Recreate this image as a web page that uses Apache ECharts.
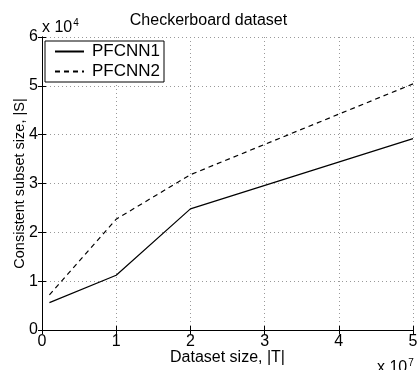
<!DOCTYPE html>
<html><head><meta charset="utf-8">
<script src="https://cdn.jsdelivr.net/npm/echarts@6/dist/echarts.min.js"></script>
<style>html,body{margin:0;padding:0;background:#fff}#c{width:417px;height:370px}</style>
</head><body><div id="c"></div>
<script>
const datasetSize = [1e6, 1e7, 2e7, 5e7];
const pfcnn1 = [5600, 11200, 24800, 39200];
const pfcnn2 = [7200, 22700, 31800, 50400];
const seriesNames = ['PFCNN1', 'PFCNN2'];
const xTicks = [0, 1, 2, 3, 4, 5];
const yTicks = [0, 1, 2, 3, 4, 5, 6];
const FONT = '"Liberation Sans", Arial, sans-serif';
const chart = echarts.init(document.getElementById('c'));
const grid = {left: 42, right: 4, top: 37, bottom: 40, containLabel: false, outerBoundsMode: 'none'};
const axisCommon = {
  axisLine: {show: true, lineStyle: {color: '#000', width: 1}},
  axisTick: {show: true, inside: true, length: 4, lineStyle: {color: '#000'}},
};
chart.setOption({
  animation: false,
  title: {text: 'Checkerboard dataset', left: 'center', top: 8,
    textStyle: {fontFamily: FONT, fontSize: 16, fontWeight: 'normal', color: '#000'}},
  grid: grid,
  legend: {
    data: seriesNames, orient: 'vertical', left: 45, top: 41,
    backgroundColor: '#fff', borderColor: '#000', borderWidth: 1, padding: [2, 4, 2, 9],
    itemWidth: 29, itemHeight: 14, itemGap: 3,
    itemStyle: {opacity: 0},
    textStyle: {fontFamily: FONT, fontSize: 17, color: '#000', padding: [0, 0, 0, 3]}
  },
  xAxis: [{
    type: 'value', min: 0, max: 5e7, interval: 1e7, position: 'bottom',
    ...axisCommon,
    axisLabel: {fontFamily: FONT, fontSize: 16, color: '#000', margin: 4,
      formatter: v => String(xTicks[Math.round(v / 1e7)])},
    splitLine: {show: true, lineStyle: {color: '#999', type: [1, 3], width: 1}},
    name: 'Dataset size, |T|', nameLocation: 'middle', nameGap: 20, nameMoveOverlap: false,
    nameTextStyle: {fontFamily: FONT, fontSize: 16, color: '#000', verticalAlign: 'top'}
  }, {
    type: 'value', min: 0, max: 5e7, interval: 1e7, position: 'top',
    ...axisCommon, axisLabel: {show: false}, splitLine: {show: false}
  }],
  yAxis: [{
    type: 'value', min: 0, max: 6e4, interval: 1e4, position: 'left',
    ...axisCommon,
    axisLabel: {fontFamily: FONT, fontSize: 16, color: '#000', margin: 4,
      formatter: v => String(yTicks[Math.round(v / 1e4)])},
    splitLine: {show: true, lineStyle: {color: '#999', type: [1, 3], width: 1}},
    name: 'Consistent subset size, |S|', nameLocation: 'middle', nameGap: 15, nameMoveOverlap: false,
    nameTextStyle: {fontFamily: FONT, fontSize: 14.5, color: '#000'}
  }, {
    type: 'value', min: 0, max: 6e4, interval: 1e4, position: 'right',
    ...axisCommon, axisLabel: {show: false}, splitLine: {show: false}
  }],
  series: [{
    name: seriesNames[0], type: 'line', symbol: 'none',
    data: datasetSize.map((x, i) => [x, pfcnn1[i]]),
    lineStyle: {color: '#000', width: 1.2, type: 'solid'}, itemStyle: {color: '#000'}
  }, {
    name: seriesNames[1], type: 'line', symbol: 'none',
    data: datasetSize.map((x, i) => [x, pfcnn2[i]]),
    lineStyle: {color: '#000', width: 1.2, type: [5, 4]}, itemStyle: {color: '#000'}
  }],
  graphic: [{
    type: 'text', left: 42, top: 18,
    style: {text: '{a|x 10}{s|4}', rich: {
      a: {fontFamily: FONT, fontSize: 16, color: '#000'},
      s: {fontFamily: FONT, fontSize: 10, color: '#000', verticalAlign: 'top', padding: [0, 0, 9, 1]}}}
  }, {
    type: 'text', left: 377, top: 358,
    style: {text: '{a|x 10}{s|7}', rich: {
      a: {fontFamily: FONT, fontSize: 16, color: '#000'},
      s: {fontFamily: FONT, fontSize: 10, color: '#000', verticalAlign: 'top', padding: [0, 0, 9, 1]}}}
  }]
});
</script></body></html>
